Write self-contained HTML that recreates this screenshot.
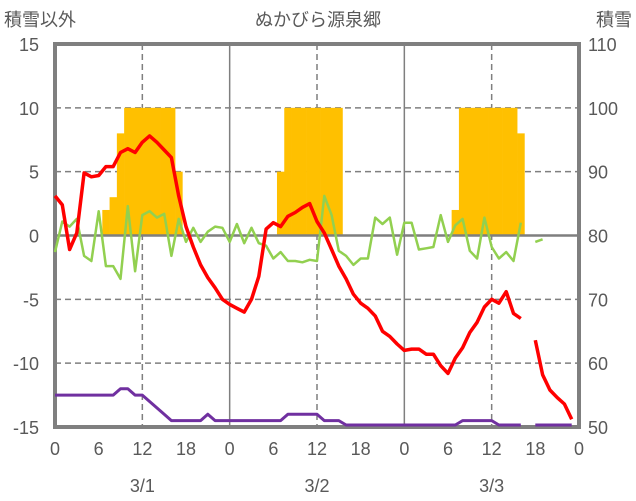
<!DOCTYPE html>
<html><head><meta charset="utf-8"><style>
html,body{margin:0;padding:0;background:#fff;}
svg{display:block;font-family:"Liberation Sans","Noto Sans CJK JP",sans-serif;}
</style></head><body>
<svg id="chart" width="636" height="501" viewBox="0 0 636 501" xmlns="http://www.w3.org/2000/svg">
<text x="318" y="26" text-anchor="middle" font-size="18" fill="#595959">ぬかびら源泉郷</text>
<text x="4" y="26" font-size="18" fill="#595959">積雪以外</text>
<text x="632" y="26" text-anchor="end" font-size="18" fill="#595959">積雪</text>
<g id="grid"></g><g id="bars"></g><g id="axes"></g><g id="lines"></g>
</svg>
<script>
const hours = Array.from({length:73},(_,i)=>i);
const snowHours = [7,8,9,10,11,12,13,14,15,16,17,31,32,33,34,35,36,37,38,39,55,56,57,58,59,60,61,62,63,64];
const snowDepth = [84,86,96,100,100,100,100,100,100,100,90,90,100,100,100,100,100,100,100,100,84,100,100,100,100,100,100,100,100,96];
const temperature = [3.1,2.4,-1.1,0.2,4.9,4.6,4.7,5.4,5.4,6.5,6.8,6.5,7.3,7.8,7.3,6.7,6.1,3.1,0.7,-0.9,-2.3,-3.3,-4.1,-5.0,-5.4,-5.7,-6.0,-5.0,-3.2,0.5,1.0,0.7,1.5,1.8,2.2,2.5,1.1,0.2,-1.1,-2.4,-3.4,-4.6,-5.3,-5.7,-6.3,-7.5,-7.9,-8.5,-9.0,-8.9,-8.9,-9.3,-9.3,-10.2,-10.8,-9.6,-8.8,-7.6,-6.8,-5.6,-5.0,-5.3,-4.4,-6.1,-6.5,null,-8.2,-10.9,-12.1,-12.7,-13.2,-14.4,null];
const greenSeries = [-1.3,1.1,0.7,1.3,-1.6,-2.0,1.9,-2.4,-2.4,-3.4,2.3,-2.8,1.6,1.9,1.4,1.7,-1.6,1.3,-0.5,0.6,-0.5,0.3,0.7,0.6,-0.5,0.9,-0.6,0.6,-0.6,-0.8,-1.8,-1.3,-2.0,-2.0,-2.1,-1.9,-2.0,3.1,1.6,-1.2,-1.6,-2.3,-1.8,-1.8,1.4,0.9,1.4,-1.5,1.0,1.0,-1.1,-1.0,-0.9,1.6,-0.5,0.8,1.3,-1.2,-1.8,1.4,-0.9,-1.8,-1.3,-2.0,1.0,null,-0.5,-0.3,null,null,null,null,null];
const purpleSeries = [-12.5,-12.5,-12.5,-12.5,-12.5,-12.5,-12.5,-12.5,-12.5,-12.0,-12.0,-12.5,-12.5,-13.0,-13.5,-14.0,-14.5,-14.5,-14.5,-14.5,-14.5,-14.0,-14.5,-14.5,-14.5,-14.5,-14.5,-14.5,-14.5,-14.5,-14.5,-14.5,-14.0,-14.0,-14.0,-14.0,-14.0,-14.5,-14.5,-14.5,-15,-15,-15,-15,-15,-15,-15,-15,-15,-15,-15,-15,-15,-15,-15,-15,-14.5,-14.5,-14.5,-14.5,-14.5,-15,-15,-15,-15,null,-15,-15,-15,-15,-15,-15,null];
const leftTicks = [15,10,5,0,-5,-10,-15];
const rightTicks = [110,100,90,80,70,60,50];
const xTicks = [0,6,12,18,24,30,36,42,48,54,60,66,72];
const xTickLabels = ["0","6","12","18","0","6","12","18","0","6","12","18","0"];
const dayLabels = ["3/1","3/2","3/3"];

const L=55,R=579,T=44,B=427;
const x = h => L + (R-L)*h/72;
const yL = v => B - (v+15)/30*(B-T);
const yR = v => B - (v-50)/60*(B-T);
const NS="http://www.w3.org/2000/svg";
function mk(tag, parent, attrs){const e=document.createElementNS(NS,tag);for(const k in attrs)e.setAttribute(k,attrs[k]);parent.appendChild(e);return e;}
const grid=document.getElementById('grid'),bars=document.getElementById('bars'),lines=document.getElementById('lines'),axes=document.getElementById('axes');

leftTicks.forEach(v=>{
  if(v===15||v===-15||v===0) return;
  const g=mk('line',grid,{x1:L,x2:R,y1:yL(v),y2:yL(v),stroke:'#7f7f7f','stroke-width':1.5,'stroke-dasharray':'6,4'});
  
  
});
[12,36,60].forEach(h=>{
  const g=mk('line',grid,{x1:x(h),x2:x(h),y1:T,y2:B,stroke:'#7f7f7f','stroke-width':1.5,'stroke-dasharray':'6,4'});
  
  
});
[24,48].forEach(h=>{
  const g=mk('line',grid,{x1:x(h),x2:x(h),y1:T,y2:B,stroke:'#7f7f7f','stroke-width':1.5});
  
  
});

snowHours.forEach((h,i)=>{
  const top=yR(snowDepth[i]), base=yR(80);
  const r=mk('rect',bars,{x:x(h-0.5),y:top,width:x(h+0.5)-x(h-0.5)+0.3,height:base-top,fill:'#ffc000'});
  
  
});

const zl=mk('line',axes,{x1:L,x2:R,y1:yL(0),y2:yL(0),stroke:'#7f7f7f','stroke-width':2.5});



const fr=mk('rect',axes,{x:L,y:T,width:R-L,height:B-T,fill:'none',stroke:'#7f7f7f','stroke-width':4});



function drawSeries(vals,color,w,name){
  let d='',pen=false;
  vals.forEach((v,i)=>{
    if(v===null){pen=false;return;}
    d+=(pen?'L':'M')+x(hours[i]).toFixed(1)+','+(yL(v)-(v<=-15?2:0)).toFixed(1);pen=true;
  });
  const p=mk('path',lines,{d:d,fill:'none',stroke:color,'stroke-width':w,'stroke-linejoin':'round'});
  
  
}
drawSeries(greenSeries,'#92d050',2.5,'green-series-line');
drawSeries(purpleSeries,'#7030a0',3,'purple-series-line');
drawSeries(temperature,'#ff0000',3.5,'temperature-line');

leftTicks.forEach(v=>{
  const t=mk('text',axes,{x:39,y:yL(v)+7,'text-anchor':'end','font-size':18,fill:'#595959'});
  t.textContent=String(v);
  
  
});
rightTicks.forEach(v=>{
  const t=mk('text',axes,{x:588,y:yR(v)+7,'font-size':18,fill:'#595959'});
  t.textContent=String(v);
  
  
});
xTicks.forEach((h,i)=>{
  const t=mk('text',axes,{x:x(h),y:455,'text-anchor':'middle','font-size':18,fill:'#595959'});
  t.textContent=xTickLabels[i];
  
  
});
dayLabels.forEach((s,i)=>{
  const t=mk('text',axes,{x:x(12+24*i),y:492,'text-anchor':'middle','font-size':18,fill:'#595959'});
  t.textContent=s;
  
  
});
</script>
</body></html>
